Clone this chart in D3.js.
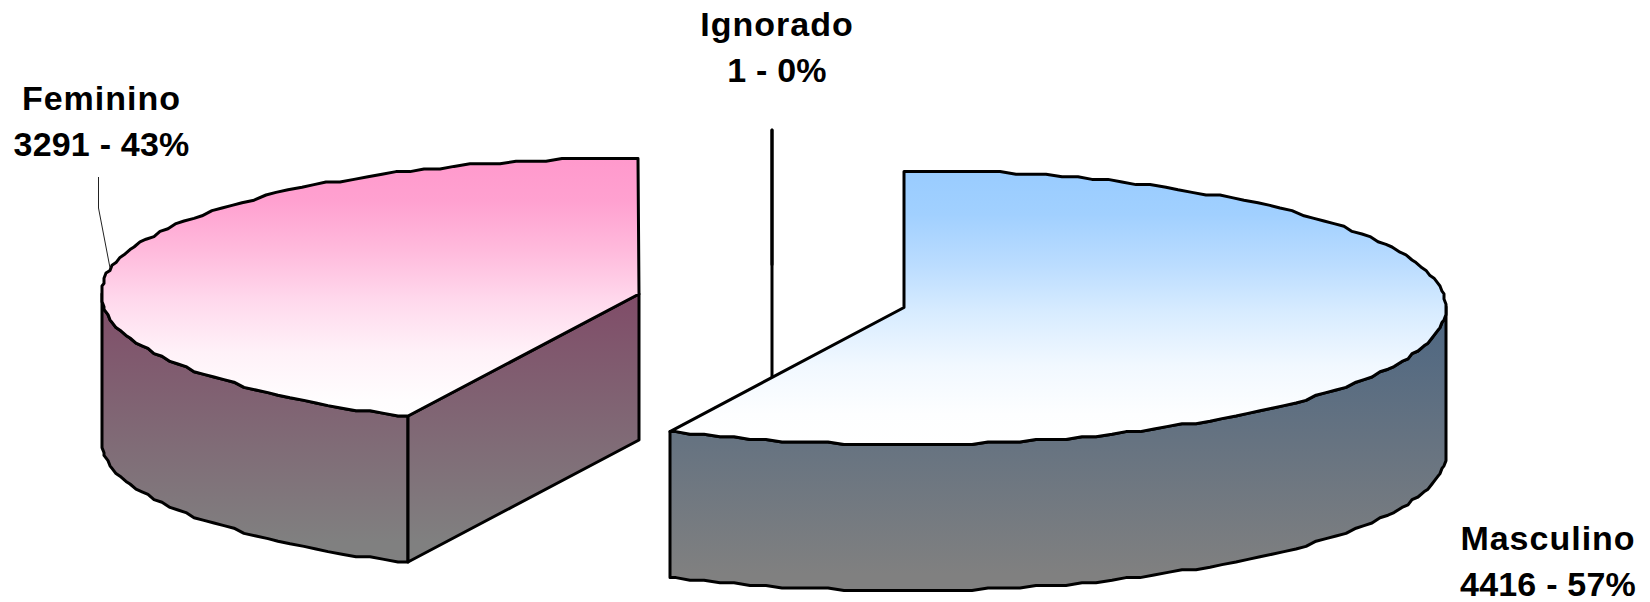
<!DOCTYPE html>
<html>
<head>
<meta charset="utf-8">
<script src="https://cdn.jsdelivr.net/npm/d3@7"></script>
<style>
  html, body { margin: 0; padding: 0; background: #fff; }
  svg { display: block; }
  text { font-family: "Liberation Sans", Arial, sans-serif; font-weight: bold; font-size: 34px; fill: #000; text-anchor: middle; }
</style>
</head>
<body>
<svg id="chart"></svg>
<script>
const categories = ["Masculino", "Feminino", "Ignorado"];
const values = [4416, 3291, 1];
const percents = ["57%", "43%", "0%"];

const topColors = ["#99ccff", "#ff99cc", "#ffffff"];
const wallColors = ["#4c6682", "#804c68", "#808080"];

const width = 1650;
const height = 602;

// exploded centre of each slice and its ellipse
const centers = [[904, 307.5], [639, 294], [772, 264.5]];
const radiiX = [542, 538, 540];
const radiiY = [137, 136, 135.5];
const depth = 146;

// label anchor: x centre, first baseline
const labelPos = [[1548, 550], [101.5, 110], [777, 36]];
const lineGap = 46;
// the Feminino wall reaches plain grey sooner than the Masculino one
const wallFade = [16, 34, 16];

// how the top colour fades to white from back to front of the ellipse
const fadeStops = [[0, 0], [0.16, 0.08], [0.34, 0.32], [0.52, 0.62], [0.71, 0.86], [0.89, 0.98], [1, 1]];

const svg = d3.select("#chart").attr("width", width).attr("height", height);
const defs = svg.append("defs");

const arcs = d3.pie().sort(null).value((d) => d).startAngle(0).endAngle(2 * Math.PI)(values);

const line = d3.line();

// the tilt in the original squeezes the cut a little
const tilt = d3.scaleLinear()
  .domain([0, arcs[0].endAngle, 2 * Math.PI])
  .range([0, (205.5 * Math.PI) / 180, 2 * Math.PI]);

// point on the rim, snapped to a coarse grid like the low-res original outline
function rim(i, angle, dy = 0) {
  const sx = d3.scaleLinear().domain([-1, 1]).range([centers[i][0] - radiiX[i], centers[i][0] + radiiX[i]]);
  const sy = d3.scaleLinear().domain([-1, 1]).range([centers[i][1] - radiiY[i], centers[i][1] + radiiY[i]]);
  const t = tilt(angle);
  const x = sx(Math.sin(t));
  const y = sy(-Math.cos(t));
  return [Math.round(x / 2) * 2, Math.round(y / 2.6) * 2.6 + dy];
}

// samples sit on one fixed angle grid so wall and top share the same rim
function rimPoints(i, a0, a1, dy = 0) {
  const step = (1.7 * Math.PI) / 180;
  const lo = Math.min(a0, a1);
  const hi = Math.max(a0, a1);
  const inner = d3.range(Math.ceil(lo / step + 0.01), Math.floor(hi / step - 0.01) + 1).map((k) => k * step);
  const angles = [lo, ...inner, hi];
  if (a0 > a1) angles.reverse();
  return angles.map((t) => rim(i, t, dy));
}

function addTopGradient(i) {
  const [, cy] = centers[i];
  const mix = d3.interpolateRgb(topColors[i], "#ffffff");
  defs.append("linearGradient")
    .attr("id", `top-${i}`)
    .attr("gradientUnits", "userSpaceOnUse")
    .attr("x1", 0).attr("x2", 0)
    .attr("y1", cy - radiiY[i]).attr("y2", cy + radiiY[i])
    .selectAll("stop")
    .data(fadeStops)
    .join("stop")
    .attr("offset", (d) => d[0])
    .attr("stop-color", (d) => mix(d[1]));
}

function addWallGradient(i) {
  const [, cy] = centers[i];
  const g = defs.append("linearGradient")
    .attr("id", `wall-${i}`)
    .attr("gradientUnits", "userSpaceOnUse")
    .attr("x1", 0).attr("x2", 0)
    .attr("y1", cy).attr("y2", cy + radiiY[i] + depth - wallFade[i]);
  g.append("stop").attr("offset", 0).attr("stop-color", wallColors[i]);
  g.append("stop").attr("offset", 1).attr("stop-color", "#808080");
}

function drawSlice(i) {
  const a = arcs[i];
  const [cx, cy] = centers[i];
  const g = svg.append("g");
  const style = (sel) => sel.attr("stroke", "#000").attr("stroke-width", 3).attr("stroke-linejoin", "round");

  addTopGradient(i);
  addWallGradient(i);

  // outer wall, only the front half of the ellipse shows
  const w0 = Math.max(a.startAngle, Math.PI / 2);
  const w1 = Math.min(a.endAngle, (3 * Math.PI) / 2);
  if (w1 > w0) {
    const front = rimPoints(i, w0, w1);
    const back = rimPoints(i, w1, w0, depth);
    g.append("path")
      .attr("d", line(front.concat(back)) + "Z")
      .attr("fill", `url(#wall-${i})`)
      .call(style);
  }

  // flat cut face when the start edge looks towards the viewer
  if (a.startAngle > Math.PI && a.startAngle < 2 * Math.PI) {
    const p = rim(i, a.startAngle);
    g.append("path")
      .attr("d", line([[cx, cy], p, [p[0], p[1] + depth], [cx, cy + depth]]) + "Z")
      .attr("fill", `url(#wall-${i})`)
      .call(style);
  }

  // top surface
  const topPts = [[cx, cy]].concat(rimPoints(i, a.startAngle, a.endAngle));
  g.append("path")
    .attr("d", line(topPts) + "Z")
    .attr("fill", `url(#top-${i})`)
    .call(style);
}

// the hairline slice sits behind the others
drawSlice(2);
drawSlice(1);
drawSlice(0);

// leader line of Feminino
const leaderEnd = rim(1, (281 * Math.PI) / 180);
svg.append("path")
  .attr("d", line([[98.5, 177], [98.5, 208], leaderEnd]))
  .attr("stroke", "#222").attr("stroke-width", 1).attr("fill", "none");

categories.forEach((name, i) => {
  svg.append("text")
    .attr("x", labelPos[i][0]).attr("y", labelPos[i][1])
    .style("letter-spacing", "1px")
    .text(name);
  svg.append("text")
    .attr("x", labelPos[i][0]).attr("y", labelPos[i][1] + lineGap)
    .style("letter-spacing", "0.2px")
    .text(`${values[i]} - ${percents[i]}`);
});
</script>
</body>
</html>
